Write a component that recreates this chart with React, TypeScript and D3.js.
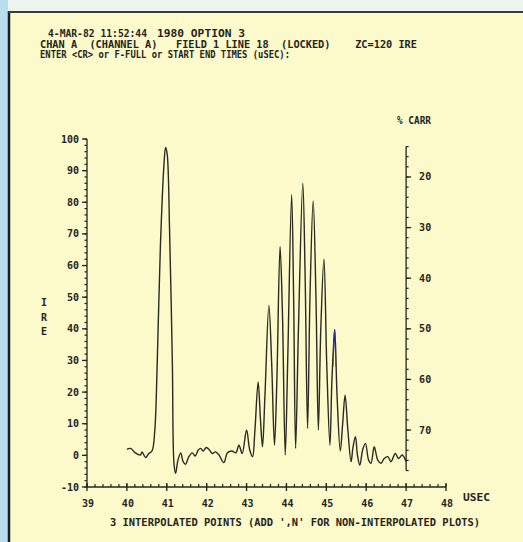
import React, { useEffect, useRef } from 'react';
import * as d3 from 'd3';

// waveform samples (time in usec, level in IRE)
const times = [40.0, 40.09, 40.21, 40.34, 40.38, 40.47, 40.55, 40.63, 40.7, 40.76, 40.84, 40.93, 40.97, 41.01, 41.07, 41.14, 41.18, 41.22, 41.28, 41.35, 41.41, 41.47, 41.55, 41.64, 41.71, 41.79, 41.85, 41.91, 41.99, 42.07, 42.14, 42.22, 42.31, 42.43, 42.52, 42.63, 42.73, 42.81, 42.89, 43.0, 43.08, 43.15, 43.21, 43.29, 43.35, 43.4, 43.46, 43.56, 43.63, 43.7, 43.76, 43.84, 43.9, 43.97, 44.03, 44.13, 44.18, 44.23, 44.3, 44.41, 44.47, 44.53, 44.59, 44.67, 44.74, 44.8, 44.86, 44.94, 45.01, 45.09, 45.14, 45.21, 45.27, 45.35, 45.41, 45.47, 45.54, 45.62, 45.67, 45.73, 45.78, 45.84, 45.91, 45.98, 46.06, 46.12, 46.2, 46.29, 46.37, 46.45, 46.54, 46.62, 46.73, 46.81, 46.9, 47.0];
const ire = [1.9, 2.2, 0.8, 0.1, 1.1, -0.7, 0.6, 1.4, 8, 29, 66, 92, 97.3, 95.2, 71, 29, -2.5, -5.7, -1.5, 0.8, -2, -2.8, -0.5, 0.8, -0.2, 1.7, 2.2, 1.4, 2.5, 1.7, 0.6, 1.1, 0.1, -2.3, 0.8, 1.4, 0.8, 3.2, 0.6, 8, 1.7, -0.4, 8, 23.2, 11.1, 2.7, 18.5, 47.4, 29, 3.2, 23.7, 66, 44.8, 0.1, 29, 82.4, 50, 2.2, 39.5, 86, 55.3, 8.5, 50, 80.5, 50, 8, 39.5, 62.1, 29, 3.2, 23.7, 39.7, 18.5, 1.4, 10.1, 19, 8, -2, 2.7, 5.9, 0.1, -3.1, 1.7, 3.8, -1.5, -2.5, 2.7, -1.5, -2.5, -1, -0.4, -2, 0.6, -1, 0.1, -2];

const ireTicks = [-10, 0, 10, 20, 30, 40, 50, 60, 70, 80, 90, 100];
const carrTicks = [20, 30, 40, 50, 60, 70];
const usecTicks = [39, 40, 41, 42, 43, 44, 45, 46, 47, 48];

// header pieces: [text, x, y, forced width]
const header = [
  ['4-MAR-82 11:52:44', 48, 37, 99],
  ['1980 OPTION 3', 157, 37, 88],
  ['CHAN A  (CHANNEL A)   FIELD 1 LINE 18  (LOCKED)    ZC=120 IRE', 40, 48, 377],
  ['ENTER <CR> or F-FULL or START END TIMES (uSEC):', 40, 58, 250],
];
const footer = "3 INTERPOLATED POINTS (ADD ',N' FOR NON-INTERPOLATED PLOTS)";

const App = () => {
  const svgRef = useRef(null);

  useEffect(() => {
    const width = 523;
    const height = 542;
    const ink = '#24241c';
    const font = 'DejaVu Sans Mono, monospace';

    const svg = d3.select(svgRef.current).attr('width', width).attr('height', height);
    svg.selectAll('*').remove();

    // paper + scan edges
    svg.append('rect').attr('width', width).attr('height', height).attr('fill', '#fcf9cb');
    svg.append('rect').attr('width', 8).attr('height', height).attr('fill', '#b9dded');
    svg.append('rect').attr('x', 8).attr('width', width).attr('height', 11).attr('fill', '#edf5ee');
    svg.append('line').attr('x1', 9).attr('x2', 9).attr('y1', 11).attr('y2', height).attr('stroke', '#1e1e1e').attr('stroke-width', 2.5);
    svg.append('line').attr('x1', 8).attr('x2', width).attr('y1', 12).attr('y2', 12).attr('stroke', '#3a3a36').attr('stroke-width', 2);

    const x = d3.scaleLinear().domain([39, 48]).range([87, 446]);
    const y = d3.scaleLinear().domain([-10, 100]).range([487, 139]);
    // % carrier: 100 IRE = 12.5 %, -10 IRE = 81.25 %
    const yc = d3.scaleLinear().domain([12.5, 81.25]).range([139, 487]);

    const txt = (s, px, py, len, anchor = 'start') => {
      const t = svg.append('text')
        .attr('x', px).attr('y', py)
        .attr('font-family', font).attr('font-weight', 'bold').attr('font-size', 10)
        .attr('fill', ink).attr('text-anchor', anchor)
        .attr('xml:space', 'preserve')
        .text(s);
      if (len) t.attr('textLength', len).attr('lengthAdjust', 'spacingAndGlyphs');
      return t;
    };

    header.forEach(([s, px, py, len]) => txt(s, px, py, len));

    // left IRE axis
    const left = svg.append('g').attr('stroke', ink);
    left.append('line').attr('x1', x(39)).attr('x2', x(39)).attr('y1', y(100)).attr('y2', y(-10)).attr('stroke-width', 1.3);
    left.selectAll('.mn').data(d3.range(-10, 101, 2)).enter().append('line')
      .attr('x1', x(39) - 2.5).attr('x2', x(39)).attr('y1', (d) => y(d)).attr('y2', (d) => y(d)).attr('stroke-width', 1.2);
    left.selectAll('.mj').data(ireTicks).enter().append('line')
      .attr('x1', x(39) - 5).attr('x2', x(39)).attr('y1', (d) => y(d)).attr('y2', (d) => y(d)).attr('stroke-width', 1.3);
    ireTicks.forEach((d) => txt(String(d), x(39) - 8, y(d) + 3.5, null, 'end'));
    ['I', 'R', 'E'].forEach((c, i) => txt(c, 44, 306 + i * 14.5, null, 'middle'));

    // right % carrier axis
    const xr = x(47);
    const right = svg.append('g').attr('stroke', ink);
    right.append('line').attr('x1', xr).attr('x2', xr).attr('y1', yc(14)).attr('y2', yc(78)).attr('stroke-width', 1.3);
    right.selectAll('.mn').data(d3.range(14, 79, 2)).enter().append('line')
      .attr('x1', xr).attr('x2', xr + 2.5).attr('y1', (d) => yc(d)).attr('y2', (d) => yc(d)).attr('stroke-width', 1.2);
    right.selectAll('.mj').data(carrTicks).enter().append('line')
      .attr('x1', xr).attr('x2', xr + 5).attr('y1', (d) => yc(d)).attr('y2', (d) => yc(d)).attr('stroke-width', 1.3);
    carrTicks.forEach((d) => txt(String(d), xr + 13, yc(d) + 3.5));
    txt('% CARR', 397, 124, 34);

    // time axis
    const bottom = svg.append('g').attr('stroke', ink);
    bottom.append('line').attr('x1', x(39)).attr('x2', x(48)).attr('y1', y(-10)).attr('y2', y(-10)).attr('stroke-width', 1.3);
    bottom.selectAll('.mn').data(d3.range(39, 48.01, 0.2)).enter().append('line')
      .attr('x1', (d) => x(d)).attr('x2', (d) => x(d)).attr('y1', y(-10) - 3).attr('y2', y(-10)).attr('stroke-width', 1.2);
    bottom.selectAll('.mj').data(usecTicks).enter().append('line')
      .attr('x1', (d) => x(d)).attr('x2', (d) => x(d)).attr('y1', y(-10) - 4).attr('y2', y(-10) + 4).attr('stroke-width', 1.3);
    usecTicks.forEach((d) => txt(String(d), x(d) + 1, 507, null, 'middle'));
    txt('USEC', 463, 501, 27);
    txt(footer, 110, 526, 370);

    // waveform
    const pts = times.map((t, i) => [t, ire[i]]);
    const line = d3.line()
      .x((d) => x(d[0]))
      .y((d) => y(d[1]))
      .curve(d3.curveCatmullRom.alpha(0.5));

    svg.append('path').attr('d', line(pts))
      .attr('fill', 'none').attr('stroke', '#2a2b22').attr('stroke-width', 1.4).attr('stroke-linejoin', 'round');

    // bluish pen streak near the 45.2 usec peak
    svg.append('clipPath').attr('id', 'streak')
      .append('rect').attr('x', x(45.17)).attr('y', y(42)).attr('width', x(45.23) - x(45.17)).attr('height', y(28) - y(42));
    svg.append('path').attr('d', line(pts)).attr('clip-path', 'url(#streak)')
      .attr('fill', 'none').attr('stroke', '#2a2fa0').attr('stroke-width', 1.8);
  }, []);

  return <svg ref={svgRef} style={{ position: 'absolute', left: 0, top: 0 }} />;
};

export default App;
